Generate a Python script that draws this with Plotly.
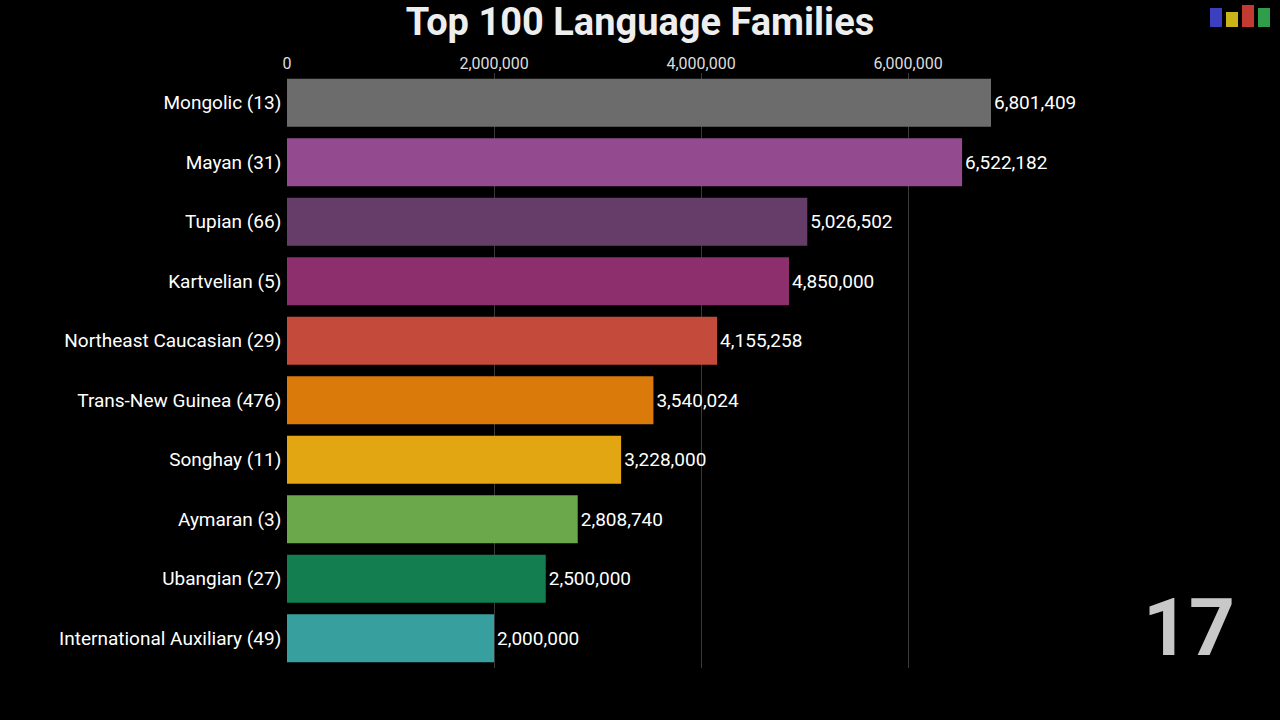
import plotly.graph_objects as go

families = ["Mongolic (13)", "Mayan (31)", "Tupian (66)", "Kartvelian (5)",
            "Northeast Caucasian (29)", "Trans-New Guinea (476)", "Songhay (11)",
            "Aymaran (3)", "Ubangian (27)", "International Auxiliary (49)"]
speakers = [6801409, 6522182, 5026502, 4850000, 4155258, 3540024, 3228000,
            2808740, 2500000, 2000000]
colors = ["#6c6c6c", "#944a8e", "#663d68", "#8c2f6c", "#c44b3b", "#d97a0a",
          "#e2a613", "#6aa84b", "#137f50", "#37a09e"]
tick_vals = [0, 2000000, 4000000, 6000000]
tick_text = ["0", "2,000,000", "4,000,000", "6,000,000"]
title = "Top 100 Language Families"
period_label = "17"
logo_colors = ["#3b3fc0", "#c9b419", "#c33a32", "#2f9e4a"]

FONT = "Roboto"

fig = go.Figure()
fig.add_trace(go.Bar(
    x=speakers, y=families, orientation="h",
    marker=dict(color=colors, line=dict(width=0)),
    width=0.81,
    text=[f"{v:,}" for v in speakers], textposition="outside",
    textfont=dict(color="white", size=19, family=FONT),
    cliponaxis=False,
    hoverinfo="skip",
))

W, H = 1280, 720
left, right, top, bottom = 287, 180, 73, 52
plot_w = W - left - right
plot_h = H - top - bottom
px_per_unit = (991 - 287) / 6801409
xmax = plot_w / px_per_unit

fig.update_layout(
    width=W, height=H,
    paper_bgcolor="black", plot_bgcolor="black",
    margin=dict(l=left, r=right, t=top, b=bottom),
    showlegend=False,
    title=dict(text=f"<b>{title}</b>", x=0.5, xanchor="center", y=0.97, yanchor="middle",
               font=dict(family=FONT, size=38, color="#eeeeee")),
    xaxis=dict(range=[0, xmax], side="top", tickvals=tick_vals, ticktext=tick_text,
               showgrid=True, gridcolor="#3a3a3a", gridwidth=1, zeroline=False,
               showline=False, ticks="", ticklen=0,
               tickfont=dict(family=FONT, size=16, color="#dddddd")),
    yaxis=dict(autorange="reversed", showgrid=False, zeroline=False, showline=False,
               ticks="", ticksuffix=" ",
               tickfont=dict(family=FONT, size=19, color="white")),
    font=dict(family=FONT),
)

fig.add_annotation(text=f"<b>{period_label}</b>", xref="paper", yref="paper",
                   x=1.0, xanchor="center", y=(top + plot_h - 628) / plot_h, yanchor="middle",
                   xshift=1189 - (W - right), showarrow=False,
                   font=dict(family=FONT, size=80, color="#c8c8c8"))

# small logo at top right
bx = [1210, 1226, 1242, 1258]
tops = [8, 12, 5, 8]
for x0, t, c in zip(bx, tops, logo_colors):
    fig.add_shape(type="rect", xref="paper", yref="paper",
                  x0=(x0 - left) / plot_w, x1=(x0 + 12 - left) / plot_w,
                  y0=1 + (top - 27) / plot_h, y1=1 + (top - t) / plot_h,
                  fillcolor=c, line=dict(width=0), layer="above")

fig.write_html("out.html",
               config={"displayModeBar": False},
               post_script="document.body.style.margin='0';"
                           "document.body.style.background='black';")
